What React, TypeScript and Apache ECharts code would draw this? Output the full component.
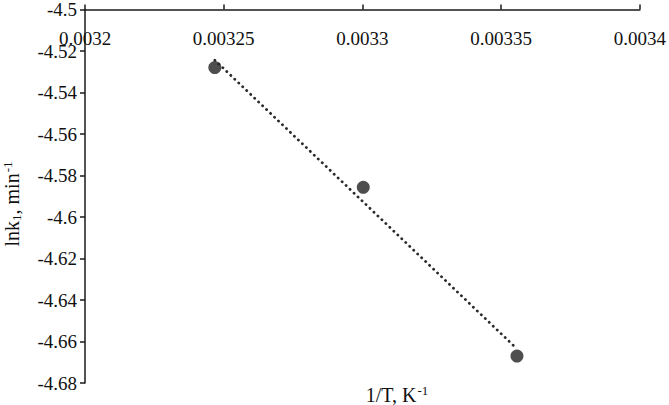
import React, { useEffect, useRef } from "react";
import * as echarts from "echarts";

const invT: number[] = [0.0032468, 0.0033003, 0.0033557];
const lnk1: number[] = [-4.528, -4.5857, -4.667];
const xTicks = { min: 0.0032, max: 0.0034, interval: 0.00005 };
const yTicks = { min: -4.68, max: -4.5, interval: 0.02 };
const xName = "1/T, K";
const yName = "lnk";

const FONT = "Liberation Serif, Times New Roman, serif";

function regression(xs: number[], ys: number[]) {
  const n = xs.length;
  const mx = xs.reduce((a, b) => a + b, 0) / n;
  const my = ys.reduce((a, b) => a + b, 0) / n;
  let sxy = 0;
  let sxx = 0;
  for (let i = 0; i < n; i++) {
    sxy += (xs[i] - mx) * (ys[i] - my);
    sxx += (xs[i] - mx) * (xs[i] - mx);
  }
  const slope = sxy / sxx;
  const intercept = my - slope * mx;
  return { slope, intercept };
}

export default function App() {
  const ref = useRef<HTMLDivElement>(null);
  useEffect(() => {
    if (!ref.current) return;
    const chart = echarts.init(ref.current, undefined, { renderer: "svg" });
    const { slope, intercept } = regression(invT, lnk1);
    const x0 = Math.min(...invT);
    const x1 = Math.max(...invT);
    const trend = [
      [x0, slope * x0 + intercept],
      [x1, slope * x1 + intercept],
    ];
    const axisColor = "#1a1a1a";
    const labelRich = { t: { fontFamily: FONT, fontSize: 19, fill: "#111", color: "#111" } };
    chart.setOption({
      animation: false,
      backgroundColor: "#ffffff",
      textStyle: { fontFamily: FONT },
      grid: { left: 85, right: 26, top: 5, bottom: 22, containLabel: false },
      xAxis: {
        type: "value",
        position: "top",
        min: xTicks.min,
        max: xTicks.max,
        interval: xTicks.interval,
        axisLine: { show: true, onZero: false, lineStyle: { color: axisColor, width: 1.5 } },
        axisTick: { show: true, inside: false, length: 5, lineStyle: { color: axisColor, width: 1.5 } },
        splitLine: { show: false },
        axisLabel: {
          inside: true,
          margin: 19,
          color: "#111",
          fontFamily: FONT,
          fontSize: 19,
          rich: labelRich,
          formatter: (v: number) => `{t|${String(parseFloat(v.toFixed(6)))}}`,
        },
      },
      yAxis: {
        type: "value",
        min: yTicks.min,
        max: yTicks.max,
        interval: yTicks.interval,
        axisLine: { show: true, onZero: false, lineStyle: { color: axisColor, width: 1.5 } },
        axisTick: { show: true, inside: false, length: 5, lineStyle: { color: axisColor, width: 1.5 } },
        splitLine: { show: false },
        axisLabel: {
          margin: 8,
          color: "#111",
          fontFamily: FONT,
          fontSize: 19,
          rich: labelRich,
          formatter: (v: number) => `{t|${String(parseFloat(v.toFixed(4)))}}`,
        },
      },
      graphic: [
        {
          type: "text",
          x: 397,
          y: 395,
          style: {
            text: `{m|${xName}}{sup|-1}`,
            align: "center",
            verticalAlign: "middle",
            fill: "#111",
            rich: {
              m: { fontFamily: FONT, fontSize: 20, lineHeight: 22, fill: "#111" },
              sup: { fontFamily: FONT, fontSize: 13, lineHeight: 22, verticalAlign: "top", fill: "#111", padding: [0, 0, 8, 1] },
            },
          },
        },
        {
          type: "text",
          x: 12,
          y: 204,
          rotation: Math.PI / 2,
          style: {
            text: `{m|${yName}}{sub|1}{m|, min}{sup|-1}`,
            align: "center",
            verticalAlign: "middle",
            fill: "#111",
            rich: {
              m: { fontFamily: FONT, fontSize: 20, lineHeight: 22, fill: "#111" },
              sub: { fontFamily: FONT, fontSize: 13, lineHeight: 22, verticalAlign: "bottom", fill: "#111", padding: [6, 0, 0, 0] },
              sup: { fontFamily: FONT, fontSize: 13, lineHeight: 22, verticalAlign: "top", fill: "#111", padding: [0, 0, 8, 1] },
            },
          },
        },
      ],
      series: [
        {
          type: "line",
          data: trend,
          symbol: "none",
          lineStyle: { color: "#2a2a2a", width: 2.8, type: [0.1, 5.4], cap: "round" },
          z: 2,
          silent: true,
        },
        {
          type: "scatter",
          data: invT.map((x, i) => [x, lnk1[i]]),
          symbol: "circle",
          symbolSize: 13,
          itemStyle: { color: "#222222" },
          z: 3,
        },
      ],
    });
    return () => chart.dispose();
  }, []);
  return <div ref={ref} style={{ width: 669, height: 405, position: "absolute", left: 0, top: 0 }} />;
}
